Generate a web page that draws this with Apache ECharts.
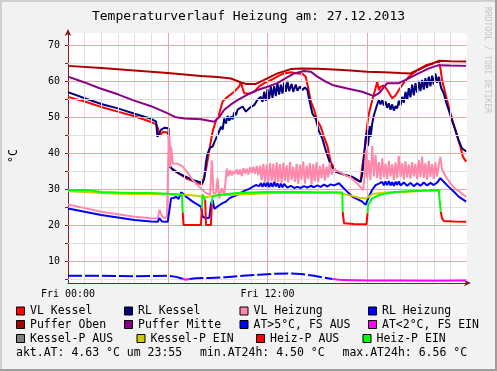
<!DOCTYPE html>
<html><head><meta charset="utf-8">
<script src="https://cdn.jsdelivr.net/npm/echarts@6/dist/echarts.min.js"></script>
<style>html,body{margin:0;padding:0;background:#f2f2f2}#c{width:497px;height:371px}</style>
</head><body><div id="c"></div>
<script>
const FONT = 'DejaVu Sans Mono';
const TITLE = 'Temperaturverlauf Heizung am: 27.12.2013';
const SIDE_TEXT = 'RRDTOOL / TOBI OETIKER';
const Y_UNIT = '°C';
const X_TICK_LABELS = {0: 'Fri 00:00', 12: 'Fri 12:00'};
const Y_TICKS = [10, 20, 30, 40, 50, 60, 70];
const Y_MINOR = [5, 15, 25, 35, 45, 55, 65];
const X_MAJOR = [6, 12, 18];
const X_MINOR = [1,2,3,4,5,7,8,9,10,11,13,14,15,16,17,19,20,21,22,23];
const Y_MIN = 3.9, Y_MAX = 73.33;

// [hour, °C]
const VL_KESSEL = [[0,55.6],[1,54.3],[2,52.8],[3,51.5],[4,50.2],[5,48.6],[5.3,48.0],[5.4,46.9],[5.55,44.8],[5.7,45.9],[6.0,45.6],[6.08,44.5],[6.12,36.5],[6.3,35.3],[6.7,34.2],[7.1,33.0],[7.6,32.1],[8.05,31.2],[8.15,31.0],[8.3,35.3],[8.5,40.8],[8.7,46.0],[8.9,49.0],[9.1,51.0],[9.3,54.3],[9.6,55.6],[10.0,57.0],[10.3,58.5],[10.4,59.8],[10.5,58.0],[10.6,56.6],[10.9,56.5],[11.2,57.0],[11.5,58.5],[11.8,59.4],[12.1,60.0],[12.4,60.7],[12.7,61.5],[13.0,62.1],[13.4,62.4],[13.8,62.1],[14.1,62.0],[14.3,61.2],[14.45,58.0],[14.6,54.5],[14.8,52.0],[15.0,49.0],[15.2,47.3],[15.4,44.5],[15.6,42.0],[15.8,37.5],[16.1,35.0],[16.6,34.0],[17.1,33.2],[17.6,32.0],[17.7,36.2],[17.9,42.7],[18.0,48.0],[18.1,51.0],[18.3,54.7],[18.5,58.0],[18.6,59.8],[18.7,57.5],[18.8,58.4],[19.0,58.8],[19.2,57.5],[19.5,55.2],[19.7,56.0],[19.9,57.5],[20.2,59.5],[20.5,61.2],[20.8,62.3],[21.1,63.1],[21.4,63.8],[21.7,64.4],[22.0,64.9],[22.3,65.4],[22.4,63.5],[22.5,60.3],[22.7,56.5],[22.9,52.9],[23.1,49.5],[23.3,46.4],[23.45,44.0],[23.6,41.8],[23.75,39.0],[23.95,37.6]];
const RL_KESSEL = [[0,56.9],[1,55.2],[2,53.6],[3,52.4],[4,50.9],[5,49.5],[5.3,48.7],[5.38,44.5],[5.5,44.3],[5.6,46.5],[5.8,47.0],[6.05,46.9],[6.1,36.2],[6.4,35.2],[6.7,34.3],[7.1,33.4],[7.5,32.5],[8.1,31.7],[8.2,33.0],[8.3,37.5],[8.4,39.9],[8.55,41.5],[8.7,41.8],[8.85,43.5],[9.0,45.0],[9.1,44.5],[9.2,47.3],[9.3,46.5],[9.4,49.6],[9.5,48.2],[9.6,50.3],[9.7,49.0],[9.8,50.1],[9.9,49.4],[10.0,51.3],[10.1,50.5],[10.2,52.0],[10.35,52.5],[10.5,52.9],[10.6,53.2],[10.7,51.5],[10.85,52.2],[11.0,52.8],[11.2,53.3],[11.4,54.8],[11.6,55.6],[11.7,54.2],[11.8,57.0],[11.9,54.5],[12.0,57.8],[12.1,55.0],[12.2,58.5],[12.3,55.3],[12.4,58.6],[12.5,55.8],[12.6,59.4],[12.7,56.2],[12.8,59.0],[12.9,56.5],[13.0,59.6],[13.1,57.0],[13.2,60.0],[13.3,57.2],[13.45,59.2],[13.55,57.0],[13.7,59.0],[13.8,57.3],[13.95,58.5],[14.1,57.5],[14.25,58.2],[14.4,57.5],[14.5,55.0],[14.7,51.0],[14.9,49.5],[15.1,46.0],[15.3,44.0],[15.5,40.8],[15.7,38.0],[15.85,36.2],[16.1,34.8],[16.6,34.0],[17.1,33.4],[17.6,32.0],[17.7,34.0],[17.8,38.5],[17.9,44.0],[18.0,46.4],[18.05,42.0],[18.15,47.5],[18.2,44.5],[18.3,48.2],[18.4,50.5],[18.5,52.0],[18.6,53.5],[18.7,54.7],[18.8,53.5],[18.9,54.8],[19.0,53.2],[19.1,54.3],[19.2,52.5],[19.3,53.8],[19.4,52.0],[19.5,53.5],[19.6,51.8],[19.7,53.0],[19.8,52.4],[19.9,54.5],[20.0,53.2],[20.1,55.6],[20.2,54.0],[20.3,57.0],[20.4,54.8],[20.5,58.0],[20.6,55.5],[20.7,59.0],[20.8,56.0],[20.9,59.4],[21.0,56.8],[21.1,60.0],[21.2,57.2],[21.3,60.3],[21.4,57.6],[21.5,60.8],[21.6,58.0],[21.7,61.2],[21.8,58.5],[21.9,61.5],[22.0,59.0],[22.1,62.1],[22.2,59.5],[22.3,61.2],[22.45,58.0],[22.6,56.6],[22.75,54.0],[22.9,52.0],[23.1,49.0],[23.3,46.4],[23.5,43.5],[23.7,41.3],[23.95,40.4]];
const VL_HEIZUNG = [[0,25.7],[1,24.7],[2,23.7],[3,23.0],[4,22.3],[5,21.9],[5.4,21.8],[5.5,24.2],[5.65,22.5],[5.8,21.9],[5.95,22.2],[6.0,22.5],[6.05,42.0],[6.1,45.0],[6.15,36.0],[6.2,41.8],[6.3,37.1],[6.6,37.0],[6.9,36.2],[7.2,34.5],[7.5,32.5],[7.9,30.6],[8.3,28.8],[8.55,28.5],[8.65,38.0],[8.75,28.8],[8.9,29.0],[9.0,33.0],[9.1,27.4],[9.25,30.2],[9.4,28.5],[9.55,35.7],[9.65,33.5],[9.75,35.2],[9.85,33.8],[9.95,35.0],[10.05,34.2],[10.15,35.5],[10.25,34.0],[10.35,35.4],[10.45,33.6],[10.55,35.8],[10.65,34.3],[10.75,35.6],[10.85,34.0],[10.95,36.0],[11.05,34.5],[11.15,36.2],[11.25,34.2],[11.35,36.4],[11.45,33.8],[11.55,36.5],[11.65,32.5],[11.75,37.0],[11.85,32.0],[11.95,36.8],[12.05,31.8],[12.15,37.2],[12.25,32.2],[12.35,37.0],[12.45,31.5],[12.55,37.4],[12.65,32.0],[12.75,36.9],[12.85,31.6],[12.95,37.3],[13.05,32.3],[13.15,36.6],[13.25,31.8],[13.35,37.5],[13.45,32.5],[13.55,36.2],[13.65,32.0],[13.75,37.0],[13.85,31.4],[13.95,36.8],[14.05,32.6],[14.15,37.6],[14.25,31.5],[14.35,36.5],[14.45,32.8],[14.55,37.2],[14.65,31.3],[14.75,36.9],[14.85,32.2],[14.95,37.4],[15.05,31.9],[15.15,36.4],[15.25,33.0],[15.35,37.0],[15.45,32.4],[15.55,36.2],[15.65,33.2],[15.75,37.3],[15.85,34.0],[16.0,35.5],[16.2,35.0],[16.4,34.6],[16.6,34.0],[16.8,33.5],[17.0,33.2],[17.2,32.4],[17.4,31.5],[17.6,30.5],[17.75,29.7],[17.85,34.0],[17.92,40.8],[18.0,33.0],[18.1,38.0],[18.2,32.5],[18.3,42.0],[18.4,33.5],[18.5,39.5],[18.6,33.0],[18.7,37.5],[18.8,32.6],[18.9,38.5],[19.0,33.2],[19.1,37.0],[19.2,32.8],[19.3,37.8],[19.4,33.5],[19.5,36.9],[19.6,32.5],[19.7,37.4],[19.8,33.0],[19.9,39.2],[20.0,33.4],[20.1,37.2],[20.2,32.7],[20.3,37.7],[20.4,33.2],[20.5,36.8],[20.6,32.9],[20.7,37.5],[20.8,33.5],[20.9,37.0],[21.0,32.8],[21.1,38.0],[21.2,33.3],[21.3,39.0],[21.4,33.0],[21.5,37.2],[21.6,32.6],[21.7,37.8],[21.8,33.4],[21.9,36.9],[22.0,32.8],[22.1,37.4],[22.2,33.5],[22.3,36.5],[22.4,38.9],[22.5,35.5],[22.7,33.6],[22.9,32.3],[23.1,31.0],[23.3,30.0],[23.5,29.5],[23.7,28.6],[23.95,27.9]];
const RL_HEIZUNG = [[0,24.6],[1,23.7],[2,22.8],[3,22.1],[4,21.4],[5,21.0],[5.4,20.9],[5.5,21.9],[5.65,21.0],[6.0,20.9],[6.1,21.2],[6.2,27.4],[6.35,27.5],[6.5,27.9],[6.65,27.2],[6.8,29.1],[6.95,28.6],[7.1,27.9],[7.5,26.5],[8.0,25.1],[8.1,22.3],[8.3,21.9],[8.5,22.0],[8.6,26.0],[8.7,27.0],[8.8,24.5],[8.9,24.2],[9.1,25.5],[9.3,26.1],[9.5,26.5],[9.7,27.4],[9.9,27.9],[10.1,28.2],[10.3,28.8],[10.5,29.2],[10.7,29.7],[10.9,30.0],[11.1,30.6],[11.3,31.1],[11.5,30.8],[11.6,31.6],[11.7,30.6],[11.8,31.7],[11.9,30.7],[12.0,31.8],[12.1,30.5],[12.2,31.7],[12.3,30.6],[12.4,31.9],[12.5,30.7],[12.6,31.6],[12.7,30.4],[12.8,31.5],[12.9,30.5],[13.0,31.4],[13.2,30.4],[13.4,30.9],[13.6,30.3],[13.8,30.6],[14.0,30.3],[14.2,30.8],[14.4,30.4],[14.6,30.9],[14.8,30.5],[15.0,31.0],[15.2,30.6],[15.4,31.2],[15.6,30.7],[15.8,31.3],[16.0,31.0],[16.3,31.6],[16.7,29.7],[17.1,27.9],[17.4,27.2],[17.7,26.5],[17.9,25.6],[18.0,26.0],[18.1,27.9],[18.3,29.8],[18.5,31.1],[18.7,31.5],[18.9,32.0],[19.0,31.0],[19.1,32.1],[19.2,31.1],[19.3,32.2],[19.4,31.0],[19.5,31.9],[19.6,30.9],[19.7,32.0],[19.8,31.2],[19.9,32.1],[20.0,31.0],[20.2,31.8],[20.4,30.9],[20.6,31.7],[20.8,30.8],[21.0,31.6],[21.2,30.9],[21.4,31.8],[21.6,31.0],[21.8,31.7],[22.0,31.1],[22.2,31.8],[22.4,33.0],[22.6,32.0],[22.9,30.6],[23.2,29.3],[23.5,27.9],[23.95,26.5]];
const PUFFER_OBEN = [[0,64.2],[2,63.6],[4,62.9],[6,62.2],[8,61.4],[9,61.1],[9.8,60.7],[10.4,59.6],[10.7,59.2],[11.3,59.2],[11.8,60.3],[12.6,62.1],[13.4,63.3],[14.0,63.5],[15,63.4],[16,63.2],[17,62.9],[18,62.6],[19,62.4],[20,62.2],[20.6,62.1],[21.0,63.0],[21.5,64.3],[22.0,65.0],[22.3,65.6],[23,65.5],[23.95,65.4]];
const PUFFER_MITTE = [[0,61.2],[1,59.6],[1.9,58.0],[3,56.3],[3.9,54.7],[5,53.0],[5.9,51.2],[6.5,49.9],[7,49.6],[8,49.4],[8.8,48.7],[9.1,50.0],[9.4,52.0],[9.8,53.5],[10.2,54.7],[10.8,56.2],[11.4,57.5],[12,58.4],[12.6,59.4],[13.1,60.8],[13.6,62.1],[14.2,62.8],[14.6,62.6],[15.0,61.2],[15.5,59.8],[15.9,58.9],[16.8,57.9],[17.7,57.0],[18.4,55.8],[18.7,56.6],[19.2,59.4],[19.9,59.4],[20.4,60.5],[20.9,61.7],[21.7,63.5],[22.3,64.4],[23,64.3],[23.95,64.2]];
const AT_FS_AUS = [
  [[0,5.9],[2,5.9],[4,5.8],[6,5.9],[6.5,5.6],[6.9,5.1]],
  [[7.3,5.0],[7.7,5.2],[8.5,5.3],[9.5,5.5],[10.5,5.9],[11.5,6.2],[12.5,6.5],[13.4,6.56],[14,6.4],[14.8,5.9],[15.4,5.4],[15.9,5.0]]
];
const AT_FS_EIN = [
  [[6.9,5.1],[7.1,4.8],[7.3,5.0]],
  [[15.9,5.0],[16.5,4.7],[18,4.6],[20,4.6],[22,4.5],[23.95,4.6]]
];
const KESSEL_P_EIN = [[0,29.4],[1,29.2],[2,28.9],[3,28.7],[4,28.6],[5,28.6],[6,28.6],[7,28.4],[7.5,28.3],[8.3,27.7],[8.9,28.3],[10,28.4],[11,28.6],[12,28.8],[13,28.9],[14,28.9],[15,28.9],[16,28.9],[16.5,28.7],[17.1,28.1],[17.5,27.6],[17.9,27.4],[18.1,27.8],[18.3,28.6],[19,29.0],[20,29.2],[21.5,29.5],[22.4,29.6]];
const HEIZ_P_EIN = [
  [[0,29.7],[1,29.7],[1.5,29.5],[2,29.2],[3,29.0],[4,28.9],[5,28.9],[6,28.7],[6.85,28.4],[6.9,23.5]],
  [[8.05,24.6],[8.1,28.5],[8.2,28.0],[8.25,27.0]],
  [[8.65,25.8],[8.7,28.0],[9.0,28.3],[10,28.8],[11,29.0],[12,29.2],[13,29.2],[14,29.2],[15,29.1],[16,29.1],[16.5,29.0],[16.52,23.7]],
  [[18.02,23.3],[18.05,25.6],[18.3,27.4],[18.7,28.3],[19.2,28.8],[19.7,29.2],[20.5,29.4],[21.5,29.6],[22.3,29.7],[22.4,29.7],[22.42,23.7]]
];
const HEIZ_P_AUS = [
  [[6.9,23.5],[6.95,20.0],[8.0,20.0],[8.05,24.6]],
  [[8.25,27.0],[8.3,20.0],[8.6,20.0],[8.65,25.8]],
  [[16.52,23.7],[16.6,20.5],[17.2,20.3],[17.95,20.2],[18.02,23.3]],
  [[22.42,23.7],[22.5,21.9],[22.6,21.1],[23.2,21.0],[23.95,20.9]]
];

const LEGEND_ROWS = [
  [['VL Kessel','#ff0000'],['RL Kessel','#000080'],['VL Heizung','#ff88aa'],['RL Heizung','#0000ff']],
  [['Puffer Oben','#aa0000'],['Puffer Mitte','#880088'],['AT>5°C, FS AUS','#0000ff'],['AT<2°C, FS EIN','#ff00ff']],
  [['Kessel-P AUS','#808080'],['Kessel-P EIN','#cccc00'],['Heiz-P AUS','#ff0000'],['Heiz-P EIN','#00ff00']]
];
const STATS = ['akt.AT: 4.63 °C um 23:55', 'min.AT24h: 4.50 °C', 'max.AT24h: 6.56 °C'];

const chart = echarts.init(document.getElementById('c'), null, {renderer: 'canvas'});

function ln(data, color, z, extra) {
  return Object.assign({type: 'line', data: data, showSymbol: false, symbol: 'none', silent: true,
    animation: false, z: z, lineStyle: {color: color, width: 2}, itemStyle: {color: color}}, extra || {});
}

const grid = [];
X_MINOR.forEach(h => grid.push({xAxis: h, lineStyle: {color: '#e0e0e0', width: 1, type: 'solid'}}));
Y_MINOR.forEach(v => grid.push({yAxis: v, lineStyle: {color: '#e0e0e0', width: 1, type: 'solid'}}));
X_MAJOR.forEach(h => grid.push({xAxis: h, lineStyle: {color: '#f3a6a6', width: 1, type: 'solid'}}));
Y_TICKS.forEach(v => grid.push({yAxis: v, lineStyle: {color: '#f3a6a6', width: 1, type: 'solid'}}));

const series = [
  {type: 'line', data: [], z: 1, silent: true, animation: false,
   markLine: {silent: true, symbol: ['none', 'none'], label: {show: false}, animation: false, data: grid}},
  ln(VL_KESSEL, '#ff0000', 3),
  ln(RL_KESSEL, '#000080', 4),
  ln(VL_HEIZUNG, '#ff88aa', 5),
  ln(RL_HEIZUNG, '#0000ff', 6),
  ln(PUFFER_OBEN, '#aa0000', 7),
  ln(PUFFER_MITTE, '#880088', 8)
];
AT_FS_AUS.forEach(s => series.push(ln(s, '#0000ff', 9, {lineStyle: {color: '#0000ff', width: 2, type: [14, 3]}})));
AT_FS_EIN.forEach(s => series.push(ln(s, '#ff00ff', 9)));
series.push(ln(KESSEL_P_EIN, '#cccc00', 10));
HEIZ_P_AUS.forEach(s => series.push(ln(s, '#ff0000', 11)));
HEIZ_P_EIN.forEach(s => series.push(ln(s, '#00ff00', 12)));

const graphic = [
  {type: 'line', shape: {x1: 0, y1: 1, x2: 497, y2: 1}, style: {stroke: '#cfcfcf', lineWidth: 2}, silent: true},
  {type: 'line', shape: {x1: 1, y1: 0, x2: 1, y2: 371}, style: {stroke: '#cfcfcf', lineWidth: 2}, silent: true},
  {type: 'line', shape: {x1: 0, y1: 370, x2: 497, y2: 370}, style: {stroke: '#9e9e9e', lineWidth: 2}, silent: true},
  {type: 'line', shape: {x1: 496, y1: 0, x2: 496, y2: 371}, style: {stroke: '#9e9e9e', lineWidth: 2}, silent: true},
  {type: 'text', x: 14, y: 156, rotation: Math.PI / 2, silent: true,
   style: {text: Y_UNIT, font: '11.5px "DejaVu Sans Mono"', fill: '#000', align: 'center', verticalAlign: 'middle'}},
  {type: 'text', x: 487, y: 7, rotation: -Math.PI / 2, silent: true,
   style: {text: SIDE_TEXT, font: '8px "DejaVu Sans Mono"', fill: '#c4c4c4', align: 'left', verticalAlign: 'middle'}}
];
const ROW_Y = [311.5, 325, 339];
const BOX_X = [[16, 124, 239.5, 368], [16, 124, 239.5, 368], [16, 136.5, 256, 362.5]];
LEGEND_ROWS.forEach((row, r) => {
  row.forEach((it, c) => {
    const bx = BOX_X[r][c];
    graphic.push({type: 'rect', silent: true, shape: {x: bx + 0.5, y: ROW_Y[r] - 4.5, width: 8, height: 8},
      style: {fill: it[1], stroke: '#000', lineWidth: 1}});
    graphic.push({type: 'text', silent: true, x: bx + 14, y: ROW_Y[r],
      style: {text: it[0], font: '11.5px "DejaVu Sans Mono"', fill: '#000', verticalAlign: 'middle'}});
  });
});
const STAT_X = [16, 200, 342.5];
STATS.forEach((t, i) => graphic.push({type: 'text', silent: true, x: STAT_X[i], y: 352.7,
  style: {text: t, font: '11.5px "DejaVu Sans Mono"', fill: '#000', verticalAlign: 'middle'}}));

const axisCol = '#7f1f1f';
chart.setOption({
  backgroundColor: '#f2f2f2',
  animation: false,
  title: {text: TITLE, left: 'center', top: 5,
    textStyle: {fontFamily: FONT, fontSize: 13, fontWeight: 'normal', color: '#000'}},
  grid: {left: 68, top: 33, width: 399, height: 250, show: true, backgroundColor: '#ffffff', borderWidth: 0},
  xAxis: {type: 'value', min: 0, max: 24, interval: 12,
    axisLine: {show: true, onZero: false, lineStyle: {color: axisCol, width: 1}, symbol: ['none', 'arrow'], symbolSize: [5, 7], symbolOffset: [0, 4]},
    axisTick: {show: false}, splitLine: {show: false},
    axisLabel: {margin: 6, fontFamily: FONT, fontSize: 10, color: '#000', formatter: v => X_TICK_LABELS[v] || ''}},
  yAxis: {type: 'value', min: Y_MIN, max: Y_MAX,
    axisLine: {show: true, onZero: false, lineStyle: {color: axisCol, width: 1}, symbol: ['none', 'arrow'], symbolSize: [5, 7], symbolOffset: [0, 4]},
    axisTick: {show: true, length: 3, customValues: Y_MINOR.concat(Y_TICKS), lineStyle: {color: axisCol}},
    splitLine: {show: false},
    axisLabel: {customValues: Y_TICKS, margin: 8, fontFamily: FONT, fontSize: 10, color: '#000'}},
  series: series,
  graphic: graphic
});
</script></body></html>
